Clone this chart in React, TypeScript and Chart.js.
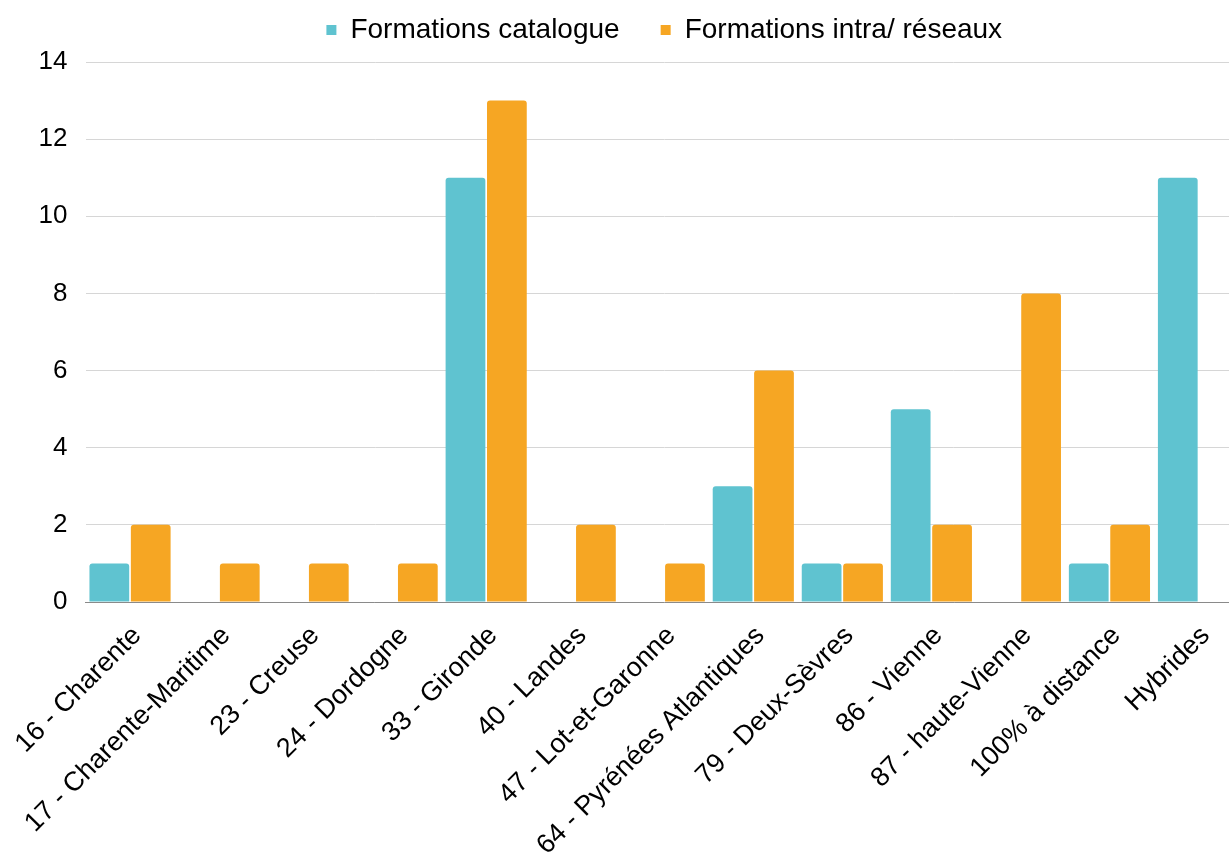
import React, { useEffect, useRef } from "react";
import { Chart, registerables } from "chart.js";

Chart.register(...registerables);

const categories = [
  "16 - Charente",
  "17 - Charente-Maritime",
  "23 - Creuse",
  "24 - Dordogne",
  "33 - Gironde",
  "40 - Landes",
  "47 - Lot-et-Garonne",
  "64 - Pyrénées Atlantiques",
  "79 - Deux-Sèvres",
  "86 - Vienne",
  "87 - haute-Vienne",
  "100% à distance",
  "Hybrides",
];
const catalogue = [1, 0, 0, 0, 11, 0, 0, 3, 1, 5, 0, 1, 11];
const intra = [2, 1, 1, 1, 13, 2, 1, 6, 1, 2, 8, 2, 0];
const seriesNames = ["Formations catalogue", "Formations intra/ réseaux"];
const yTicks = [0, 2, 4, 6, 8, 10, 12, 14];

const FONT = "'Liberation Sans', Arial, sans-serif";

const legendFitPlugin = {
  id: "legendFit",
  afterInit(chart: any) {
    const lg = chart.legend;
    if (!lg) return;
    const orig = lg.fit.bind(lg);
    lg.fit = function () {
      orig();
      this.height = 87;
    };
  },
};

export default function App() {
  const ref = useRef<HTMLCanvasElement | null>(null);
  useEffect(() => {
    if (!ref.current) return;
    const chart = new Chart(ref.current, {
      type: "bar",
      data: {
        labels: categories,
        datasets: [
          {
            label: seriesNames[0],
            data: catalogue,
            backgroundColor: "#5FC3D0",
            borderRadius: 3,
            borderSkipped: "bottom",
          },
          {
            label: seriesNames[1],
            data: intra,
            backgroundColor: "#F6A623",
            borderRadius: 3,
            borderSkipped: "bottom",
          },
        ],
      },
      plugins: [legendFitPlugin],
      options: {
        responsive: false,
        animation: false,
        layout: { padding: { left: 0, right: 0, top: -25, bottom: 0 } },
        datasets: {
          bar: { categoryPercentage: 0.93, barPercentage: 0.96 },
        },
        plugins: {
          tooltip: { enabled: false },
          legend: {
            position: "top",
            fullSize: false,
            labels: {
              color: "#000",
              font: { family: FONT, size: 28 },
              boxWidth: 10,
              boxHeight: 10,
              padding: 41,
            },
          },
        },
        scales: {
          x: {
            grid: { display: false },
            border: { display: true, color: "#8a8a8a", width: 1 },
            ticks: {
              color: "#000",
              font: { family: FONT, size: 27 },
              minRotation: 45,
              maxRotation: 45,
              padding: 10,
              labelOffset: 7,
              autoSkip: false,
            },
            afterFit: (s: any) => {
              s.height = 258;
            },
          },
          y: {
            min: 0,
            max: 14,
            afterBuildTicks: (s: any) => {
              s.ticks = yTicks.map((v) => ({ value: v }));
            },
            grid: { color: "#d6d6d6", drawTicks: false, lineWidth: 1 },
            border: { display: false },
            ticks: {
              color: "#000",
              font: { family: FONT, size: 26 },
              padding: 18,
            },
            afterFit: (s: any) => {
              s.width = 83;
            },
          },
        },
      },
    });
    return () => chart.destroy();
  }, []);
  return (
    <div
      style={{
        position: "fixed",
        left: 0,
        top: 0,
        width: 1229,
        height: 860,
        overflow: "hidden",
        background: "#fff",
      }}
    >
      <canvas ref={ref} width={1243} height={860} style={{ display: "block" }} />
    </div>
  );
}
